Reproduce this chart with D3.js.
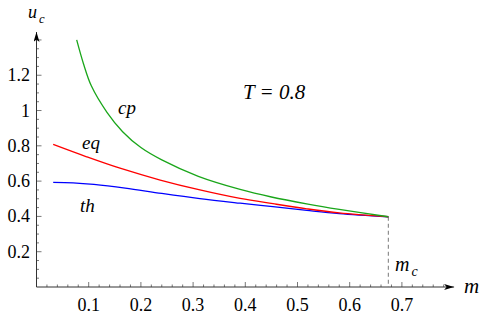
<!DOCTYPE html>
<html>
<head>
<meta charset="utf-8">
<script src="https://cdn.jsdelivr.net/npm/d3@7"></script>
<style>
  body { margin: 0; background: #fff; }
  .tick-label { font-size: 18px; fill: #000; }
  .it { font-style: italic; }
</style>
</head>
<body>
<div id="chart"></div>
<script>
// values (m on x, u_c on y)
var cpM = [0.077, 0.09, 0.105, 0.135, 0.165, 0.20, 0.24, 0.31, 0.39, 0.45, 0.52, 0.58, 0.674];
var cpU = [1.400, 1.265, 1.140, 0.990, 0.880, 0.790, 0.720, 0.627, 0.553, 0.510, 0.470, 0.440, 0.398];

var eqM = [0.032, 0.096, 0.160, 0.237, 0.313, 0.39, 0.453, 0.518, 0.58, 0.674];
var eqU = [0.808, 0.738, 0.673, 0.606, 0.550, 0.502, 0.472, 0.443, 0.420, 0.398];

var thM = [0.032, 0.07, 0.11, 0.17, 0.24, 0.313, 0.39, 0.453, 0.518, 0.58, 0.674];
var thU = [0.593, 0.590, 0.581, 0.560, 0.530, 0.501, 0.475, 0.455, 0.434, 0.416, 0.398];

var mCrit = 0.674;
var uCrit = 0.398;

var xTicks = [0.1, 0.2, 0.3, 0.4, 0.5, 0.6, 0.7];
var yTicks = [0.2, 0.4, 0.6, 0.8, 1, 1.2];

var width = 485, height = 315;
var serif = "'Liberation Serif', 'Times New Roman', Times, 'DejaVu Serif', serif";

var svg = d3.select("#chart").append("svg")
    .attr("width", width)
    .attr("height", height)
    .attr("font-family", serif);

var x = d3.scaleLinear().domain([0, 0.8]).range([36.5, 454.1]);
var y = d3.scaleLinear().domain([0, 1.445]).range([287, 32]);

// arrow marker
svg.append("defs").append("marker")
    .attr("id", "arrow")
    .attr("viewBox", "0 0 10 6")
    .attr("refX", 10).attr("refY", 3)
    .attr("markerWidth", 10).attr("markerHeight", 6)
    .attr("markerUnits", "userSpaceOnUse")
    .attr("orient", "auto")
    .append("path")
    .attr("d", "M0,0 L10,3 L0,6 L2.5,3 Z")
    .attr("fill", "#000");

// minor and major ticks (pointing inwards)
var xMinor = d3.range(1, 40).map(function (i) { return i * 0.02; });
var yMinor = d3.range(1, 29).map(function (i) { return i * 0.05; });

svg.selectAll(".xminor").data(xMinor).enter().append("line")
    .attr("x1", function (d) { return x(d); })
    .attr("x2", function (d) { return x(d); })
    .attr("y1", y(0)).attr("y2", function (d) {
        return y(0) - (Math.abs(d * 10 - Math.round(d * 10)) < 1e-6 ? 5 : 2.5);
    })
    .attr("stroke", "#555").attr("stroke-width", 0.8);

svg.selectAll(".yminor").data(yMinor).enter().append("line")
    .attr("y1", function (d) { return y(d); })
    .attr("y2", function (d) { return y(d); })
    .attr("x1", x(0)).attr("x2", function (d) {
        return x(0) + (Math.abs(d * 5 - Math.round(d * 5)) < 1e-6 ? 5 : 2.5);
    })
    .attr("stroke", "#555").attr("stroke-width", 0.8);

// axes lines
svg.append("line")
    .attr("x1", x(0)).attr("y1", y(0))
    .attr("x2", x(0.8)).attr("y2", y(0))
    .attr("stroke", "#333").attr("stroke-width", 1)
    .attr("marker-end", "url(#arrow)");

svg.append("line")
    .attr("x1", x(0)).attr("y1", y(0))
    .attr("x2", x(0)).attr("y2", y(1.445))
    .attr("stroke", "#333").attr("stroke-width", 1)
    .attr("marker-end", "url(#arrow)");

// tick labels
svg.selectAll(".xlab").data(xTicks).enter().append("text")
    .attr("class", "tick-label")
    .attr("font-family", serif)
    .attr("x", function (d) { return x(d); })
    .attr("y", 311)
    .attr("text-anchor", "middle")
    .text(function (d) { return d3.format(".1f")(d); });

svg.selectAll(".ylab").data(yTicks).enter().append("text")
    .attr("class", "tick-label")
    .attr("font-family", serif)
    .attr("x", 30)
    .attr("y", function (d) { return y(d) + 6; })
    .attr("text-anchor", "end")
    .text(function (d) { return d === 1 ? "1" : d3.format(".1f")(d); });

// dashed line at m_c
svg.append("line")
    .attr("x1", x(mCrit)).attr("x2", x(mCrit))
    .attr("y1", y(uCrit)).attr("y2", y(0))
    .attr("stroke", "#777").attr("stroke-width", 1)
    .attr("stroke-dasharray", "4,3");

// curves
var series = [
    {m: thM, u: thU, color: "#0000ff"},
    {m: eqM, u: eqU, color: "#ff0000"},
    {m: cpM, u: cpU, color: "#1aa61a"}
];

var line = d3.line()
    .x(function (d) { return x(d[0]); })
    .y(function (d) { return y(d[1]); })
    .curve(d3.curveCatmullRom.alpha(0.5));

svg.selectAll(".curve").data(series).enter().append("path")
    .attr("d", function (s) { return line(d3.zip(s.m, s.u)); })
    .attr("fill", "none")
    .attr("stroke", function (s) { return s.color; })
    .attr("stroke-width", 1.3);

// labels
function addLabel(px, py, main, sub, size) {
    var t = svg.append("text")
        .attr("class", "it")
        .attr("font-family", serif)
        .attr("x", px).attr("y", py)
        .style("font-size", size + "px");
    t.append("tspan").text(main);
    if (sub) {
        t.append("tspan").attr("dx", 2).attr("dy", 5)
            .style("font-size", (size * 0.7) + "px").text(sub);
    }
}

addLabel(28, 18, "u", "c", 18);
addLabel(464, 293, "m", null, 21);
addLabel(395, 271, "m", "c", 20);
addLabel(118, 114, "cp", null, 19);
addLabel(82, 149, "eq", null, 19);
addLabel(80, 212, "th", null, 19);

svg.append("text")
    .attr("class", "it")
    .attr("font-family", serif)
    .attr("x", 243).attr("y", 99)
    .style("font-size", "21px")
    .text("T = 0.8");
</script>
</body>
</html>
